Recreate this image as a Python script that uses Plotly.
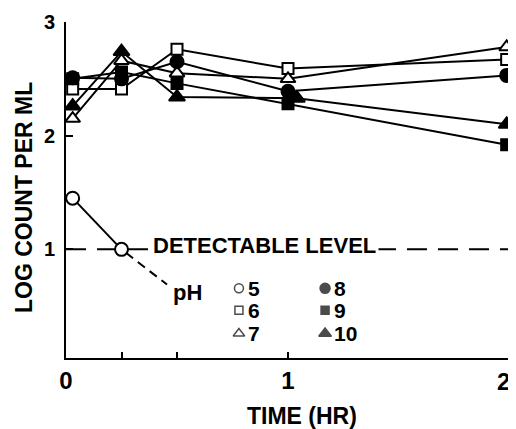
import plotly.graph_objects as go

# ---- data ----
times = [0.03, 0.25, 0.5, 1.0, 1.985]
ph5_times = [0.03, 0.25]
ph5 = [1.45, 1.0]
ph6 = [2.41, 2.41, 2.76, 2.59, 2.67]
ph7 = [2.15, 2.66, 2.55, 2.50, 2.78]
ph8 = [2.51, 2.50, 2.65, 2.39, 2.53]
ph9 = [2.50, 2.56, 2.46, 2.28, 1.92]
ph10_times = [0.03, 0.25, 0.5, 1.04, 1.985]
ph10 = [2.26, 2.74, 2.34, 2.33, 2.10]
detect_level = 1.0
x_tick_vals = [0, 0.25, 0.5, 1, 2]
x_tick_text = ["0", "", "", "1", ""]
x_last_label = "2"
y_tick_vals = [1, 2, 3]
y_tick_text = ["1", "2", "3"]
legend_labels_left = ["5", "6", "7"]
legend_labels_right = ["8", "9", "10"]

FONT = "Liberation Sans, Arial, sans-serif"


def f(size):
    return dict(family=FONT, size=size, color="black", weight="bold")


fig = go.Figure()

series = [
    (ph5_times, ph5, "circle", "white", 13),
    (times, ph6, "square", "white", 11),
    (times, ph7, "triangle-up", "white", 13),
    (times, ph8, "circle", "black", 13),
    (times, ph9, "square", "black", 11),
    (ph10_times, ph10, "triangle-up", "black", 14),
]

# detectable level dashed line
fig.add_trace(go.Scatter(
    x=[0, 2], y=[detect_level, detect_level], mode="lines", cliponaxis=False,
    line=dict(color="black", width=2, dash="20px,11px"), showlegend=False,
))

for xs, ys, sym, fill, sz in series:
    fig.add_trace(go.Scatter(
        x=xs, y=ys, mode="lines+markers", cliponaxis=False,
        line=dict(color="black", width=2),
        marker=dict(symbol=sym, size=sz, color=fill, line=dict(color="black", width=2)),
        showlegend=False,
    ))

# leader line from pH5 to label
fig.add_shape(type="line", xref="x", yref="y", x0=0.27, y0=0.97, x1=0.455, y1=0.69,
              line=dict(color="black", width=2, dash="9px,6px"))

# legend symbols
leg_y = [0.657, 0.463, 0.26]
fig.add_trace(go.Scatter(
    x=[0.779] * 3 + [1.167] * 3, y=leg_y + leg_y, mode="markers", cliponaxis=False,
    marker=dict(symbol=["circle", "square", "triangle-up"] * 2, size=[9, 8, 10, 10, 8, 11],
                color=["white"] * 3 + ["black"] * 3, line=dict(color="black", width=1.5)),
    showlegend=False,
))
for lab, yy in zip(legend_labels_left, leg_y):
    fig.add_annotation(x=0.812, y=yy, xref="x", yref="y", text=lab, showarrow=False,
                       xanchor="left", yanchor="middle", font=f(21))
for lab, yy in zip(legend_labels_right, leg_y):
    fig.add_annotation(x=1.2, y=yy, xref="x", yref="y", text=lab, showarrow=False,
                       xanchor="left", yanchor="middle", font=f(21))
fig.add_annotation(x=0.471, y=0.622, xref="x", yref="y", text="pH", showarrow=False,
                   xanchor="left", yanchor="middle", font=f(22))
fig.add_annotation(x=0.892, y=1.03, xref="x", yref="y", text="DETECTABLE LEVEL", showarrow=False,
                   xanchor="center", yanchor="middle", bgcolor="white", borderpad=2,
                   font=f(22))

# last x tick label, kept inside the figure edge
fig.add_annotation(x=1.002, y=-0.069, xref="paper", yref="paper", text=x_last_label,
                   showarrow=False, xanchor="right", yanchor="middle", borderpad=0, font=f(24))

# axis titles
fig.add_annotation(x=0.532, y=-0.172, xref="paper", yref="paper", text="TIME (HR)", showarrow=False,
                   xanchor="center", yanchor="middle", font=f(23))
fig.add_annotation(x=-0.0946, y=0.479, xref="paper", yref="paper", text="LOG COUNT PER ML",
                   showarrow=False, textangle=-90, xanchor="center", yanchor="middle",
                   font=f(23))

fig.update_xaxes(range=[0, 2], showgrid=False, zeroline=False, showline=True, linecolor="black",
                 linewidth=2, ticks="inside", ticklen=6, tickwidth=2, tickcolor="black",
                 tickvals=x_tick_vals, ticktext=x_tick_text, tickfont=f(24), automargin=False)
fig.update_yaxes(range=[0.044, 3], showgrid=False, zeroline=False, showline=True, linecolor="black",
                 linewidth=2, ticks="inside", ticklen=7, tickwidth=2, tickcolor="black",
                 tickvals=y_tick_vals, ticktext=y_tick_text, tickfont=f(20),
                 ticklabelstandoff=5, automargin=False)

fig.update_layout(width=508, height=421, margin=dict(l=58, r=6, t=14, b=71),
                  plot_bgcolor="white", paper_bgcolor="white")
fig.write_html("out.html")
